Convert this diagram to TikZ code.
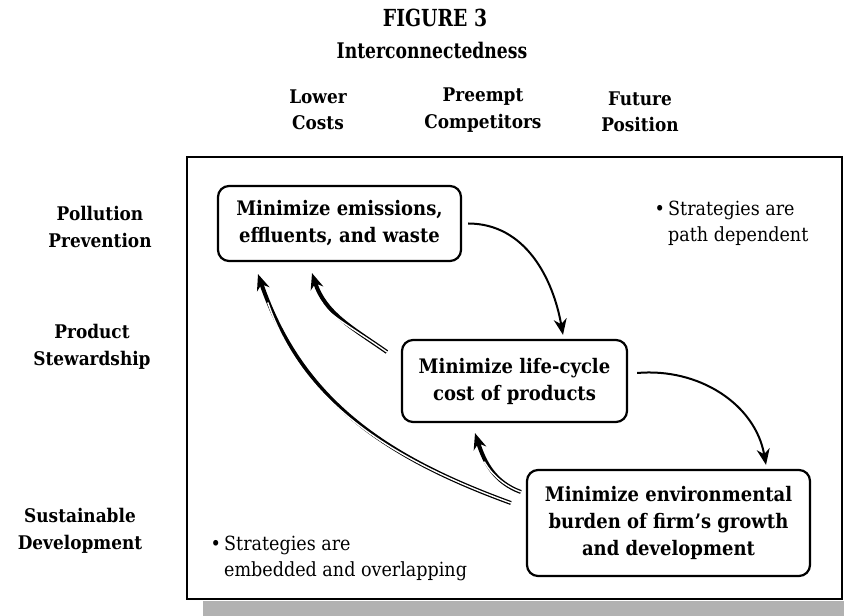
\documentclass[tikz,border=0pt]{standalone}
\usepackage{fontspec}
\setmainfont{DejaVu Serif}[FakeStretch=0.9]
\newfontfamily\narrowfont{DejaVu Serif}[FakeStretch=0.8]
\usetikzlibrary{arrows.meta}
\newcommand\backarr[3]{%
  \draw[line width=4pt,-{Stealth[length=16pt,width=13pt]}] #1 to[#3] #2;
  \draw[white,line width=1.4pt,shorten >=30pt] #1 to[#3] #2;}
\begin{document}
\begin{tikzpicture}[x=1pt,y=1pt,
  lab/.style={font=\bfseries\fontsize{18.8}{26.5}\selectfont, align=center, inner sep=0pt},
  box/.style={draw, line width=2.2pt, rounded corners=11pt, align=center,
    font=\bfseries\fontsize{20}{27}\selectfont, inner sep=0pt},
  note/.style={font=\fontsize{19.5}{26}\selectfont, align=left, inner sep=0pt},
  fwd/.style={line width=2pt, -{Stealth[length=16pt,width=13pt]}}]
\useasboundingbox (0,0) rectangle (844,616);
% shadow and frame
\fill[black!30] (203,0) rectangle (844,15);
\draw[line width=2.5pt, fill=white] (187,17) rectangle (842,459);
% titles
\node[font=\narrowfont\bfseries\fontsize{23.5}{24}\selectfont] (title) at (435,598) {FIGURE 3};
\node[font=\narrowfont\bfseries\fontsize{21.5}{22}\selectfont] (sub) at (432,566) {Interconnectedness};
\node[lab] (c1) at (318,506) {Lower\\Costs};
\node[lab] (c2) at (483,506) {Preempt\\Competitors};
\node[lab] (c3) at (640,504) {Future\\Position};
\node[lab] (r1) at (100,389) {Pollution\\Prevention};
\node[lab] (r2) at (92,269) {Product\\Stewardship};
\node[lab] (r3) at (80,85) {Sustainable\\Development};
% boxes
\node[box, minimum width=243pt, minimum height=75pt] (b1) at (339.5,392.5)
  {Minimize emissions,\\effluents, and waste};
\node[box, minimum width=225pt, minimum height=82pt] (b2) at (514.5,235)
  {Minimize life-cycle\\cost of products};
\node[box, minimum width=283pt, minimum height=106pt] (b3) at (668.5,93)
  {Minimize environmental\\burden of firm's growth\\and development};
% notes
\node[note, anchor=north west] (n1) at (668,415) {\llap{\textbullet\,}Strategies are\\path dependent};
\node[note, anchor=north west] (n2) at (224,80) {\llap{\textbullet\,}Strategies are\\embedded and overlapping};
% forward arrows
\draw[fwd] ([xshift=6pt]b1.east) to[out=0,in=100] ([xshift=48.5pt,yshift=4pt]b2.north);
\draw[fwd] ([xshift=9pt,yshift=8pt]b2.east) to[out=5,in=100] ([xshift=97.5pt,yshift=4pt]b3.north);
% back arrows
\backarr{([xshift=-5pt,yshift=31pt]b3.west)}{([xshift=-39.5pt,yshift=-10pt]b2.south)}{out=160,in=-72}
\backarr{([xshift=-15pt,yshift=20pt]b3.west)}{([xshift=-81.5pt,yshift=-12pt]b1.south)}{out=160,in=-71}
\backarr{([xshift=-14pt,yshift=29pt]b2.west)}{([xshift=-27.5pt,yshift=-11pt]b1.south)}{out=145,in=-72}
\end{tikzpicture}
\end{document}
